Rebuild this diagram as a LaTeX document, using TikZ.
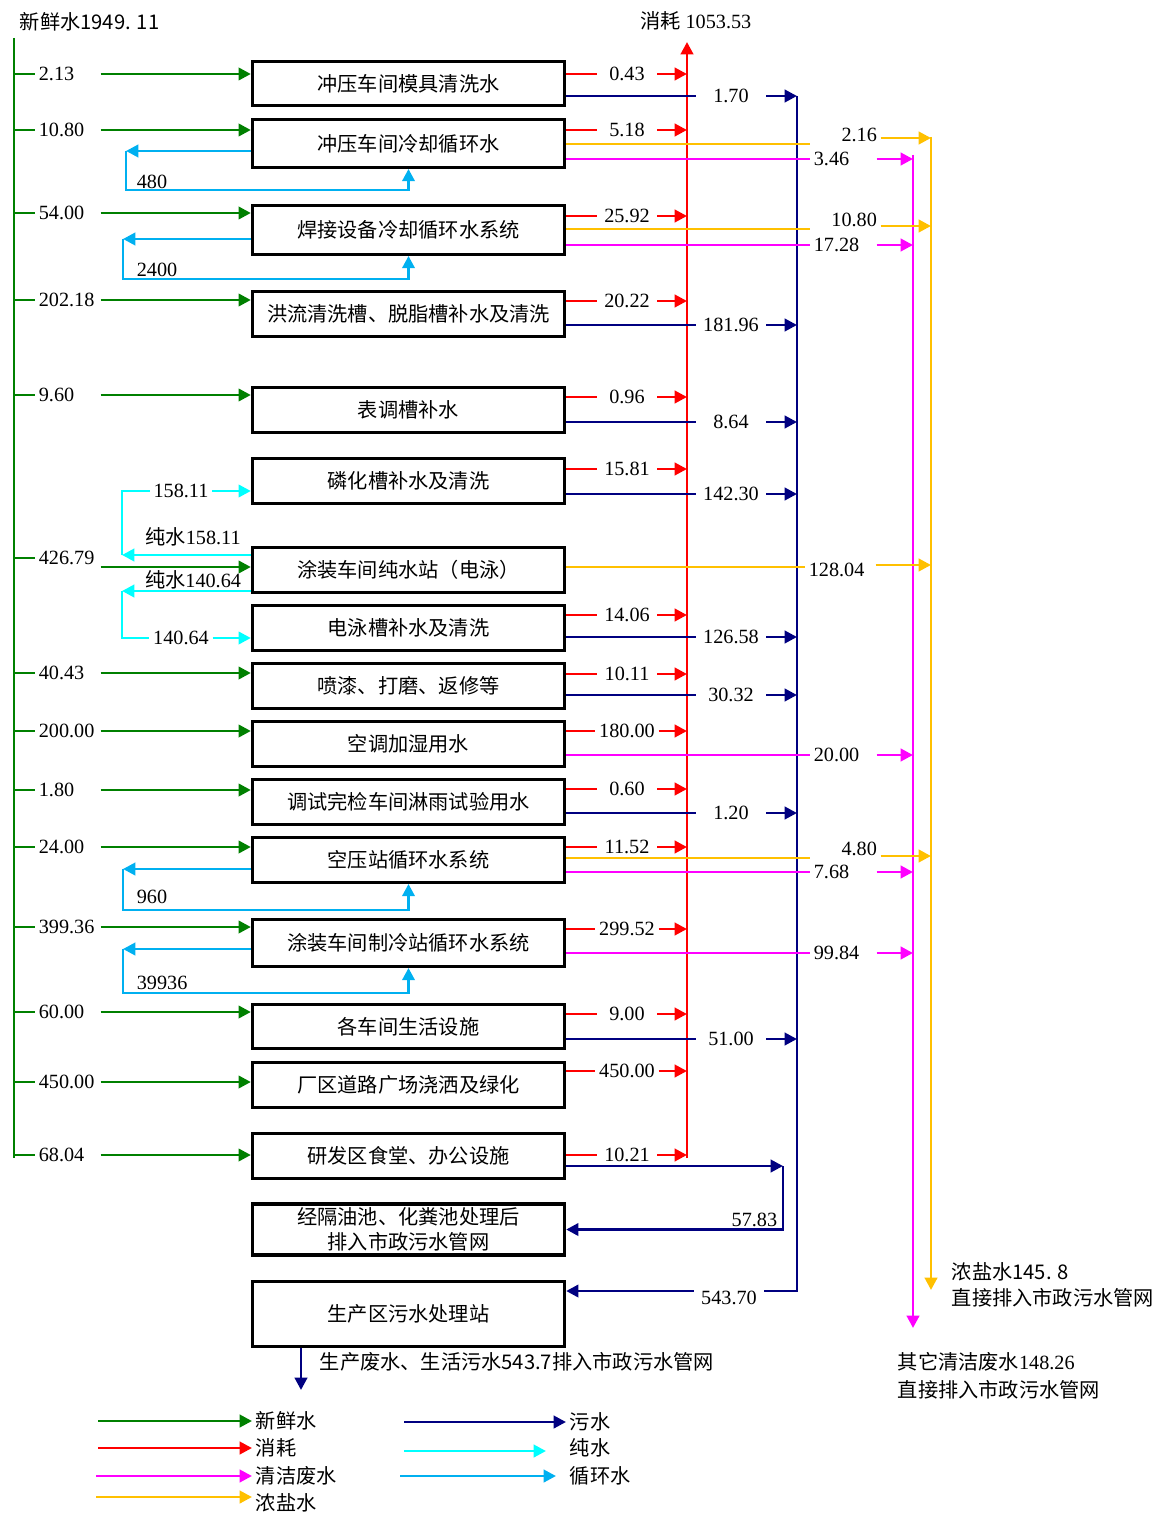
\documentclass[tikz,border=0pt]{standalone}
\usepackage{fontspec}
\setmainfont{Liberation Serif}
\newfontfamily\cjk{Noto Sans CJK SC}
\usetikzlibrary{arrows.meta}
\definecolor{cFresh}{HTML}{008000}
\definecolor{cCons}{HTML}{FF0000}
\definecolor{cSew}{HTML}{000080}
\definecolor{cPure}{HTML}{00FFFF}
\definecolor{cRec}{HTML}{00B0F0}
\definecolor{cClean}{HTML}{FF00FF}
\definecolor{cBrine}{HTML}{FFC000}
\newcommand{\fs}{\fontsize{11.5pt}{14.5pt}\selectfont}
\tikzset{
  flow/.style={line width=1.65pt,color=#1},
  farr/.style={flow=#1,-{Triangle[length=7pt,width=7pt]}},
  box/.style={draw,line width=1.9pt,minimum width=6.24cm,minimum height=0.89cm,align=center,font=\fs\cjk,inner sep=2pt},
  val/.style={font=\fs,inner xsep=2pt,inner ysep=1pt},
  fval/.style={val,anchor=west,text width=1.16cm,align=left},
  cval/.style={val,minimum width=1.2cm},
  sval/.style={val,minimum width=1.4cm},
  mval/.style={val,anchor=west,text width=1.18cm,align=left},
  yval/.style={val,anchor=west,text width=1.26cm,align=right},
  pval/.style={val,minimum width=1.24cm},
  note/.style={font=\fs\cjk,align=left,inner sep=2pt},
}
\begin{document}
\begin{tikzpicture}[x=0.02cm,y=-0.02cm]
\useasboundingbox (0,0) rectangle (1158,1513);
% process boxes
\node[box] (b1) at (408.5,83.5) {冲压车间模具清洗水};
\node[box,minimum height=0.95cm] (b2) at (408.5,143.5) {冲压车间冷却循环水};
\node[box,minimum height=0.97cm] (b3) at (408.5,230) {焊接设备冷却循环水系统};
\node[box] (b4) at (408.5,314) {洪流清洗槽、脱脂槽补水及清洗};
\node[box] (b5) at (408.5,410) {表调槽补水};
\node[box] (b6) at (408.5,481) {磷化槽补水及清洗};
\node[box] (b7) at (408.5,570) {涂装车间纯水站（电泳）};
\node[box] (b8) at (408.5,628) {电泳槽补水及清洗};
\node[box] (b9) at (408.5,686) {喷漆、打磨、返修等};
\node[box] (b10) at (408.5,744) {空调加湿用水};
\node[box] (b11) at (408.5,802) {调试完检车间淋雨试验用水};
\node[box] (b12) at (408.5,860) {空压站循环水系统};
\node[box,minimum height=0.93cm] (b13) at (408.5,943) {涂装车间制冷站循环水系统};
\node[box,minimum height=0.87cm] (b14) at (408.5,1026.5) {各车间生活设施};
\node[box] (b15) at (408.5,1085) {厂区道路广场浇洒及绿化};
\node[box] (b16) at (408.5,1156) {研发区食堂、办公设施};
\node[box,minimum height=0.99cm] (b17) at (408.5,1229.5) {经隔油池、化粪池处理后\\排入市政污水管网};
\node[box,minimum height=1.29cm] (b18) at (408.5,1314) {生产区污水处理站};

% trunks
\coordinate (ftop) at (14,38); \coordinate (fbot) at (14,1158);
\coordinate (ctop) at (687,42); \coordinate (cbot) at (687,1158);
\coordinate (stop) at (797,96); \coordinate (sbot) at (797,1291);
\coordinate (mtop) at (913,155); \coordinate (mbot) at (913,1328);
\coordinate (ytop) at (931,137); \coordinate (ybot) at (931,1290);
\draw[flow=cFresh] (ftop) -- (fbot);
\draw[farr=cCons] (cbot) -- (ctop);
\draw[farr=cClean] (mtop) -- (mbot);
\draw[farr=cBrine] (ytop) -- (ybot);
\node[note,anchor=west] (fin) at (16,22) {新鲜水1949. 11};
\node[note] (cout) at (696,21) {消耗\ {\rmfamily 1053.53}};

% fresh water in
\node[fval] (f1) at (35,74) {2.13}; \draw[flow=cFresh] (ftop |- f1) -- (f1.west); \draw[farr=cFresh] (f1.east) -- (b1.west |- f1);
\node[fval] (f2) at (35,130) {10.80}; \draw[flow=cFresh] (ftop |- f2) -- (f2.west); \draw[farr=cFresh] (f2.east) -- (b2.west |- f2);
\node[fval] (f3) at (35,213) {54.00}; \draw[flow=cFresh] (ftop |- f3) -- (f3.west); \draw[farr=cFresh] (f3.east) -- (b3.west |- f3);
\node[fval] (f4) at (35,300) {202.18}; \draw[flow=cFresh] (ftop |- f4) -- (f4.west); \draw[farr=cFresh] (f4.east) -- (b4.west |- f4);
\node[fval] (f5) at (35,395) {9.60}; \draw[flow=cFresh] (ftop |- f5) -- (f5.west); \draw[farr=cFresh] (f5.east) -- (b5.west |- f5);
\node[fval] (f7) at (35,558) {426.79}; \draw[flow=cFresh] (ftop |- f7) -- (f7.west); \draw[farr=cFresh] (f7.east |- 0,567) -- (b7.west |- 0,567);
\node[fval] (f9) at (35,673) {40.43}; \draw[flow=cFresh] (ftop |- f9) -- (f9.west); \draw[farr=cFresh] (f9.east) -- (b9.west |- f9);
\node[fval] (f10) at (35,731) {200.00}; \draw[flow=cFresh] (ftop |- f10) -- (f10.west); \draw[farr=cFresh] (f10.east) -- (b10.west |- f10);
\node[fval] (f11) at (35,790) {1.80}; \draw[flow=cFresh] (ftop |- f11) -- (f11.west); \draw[farr=cFresh] (f11.east) -- (b11.west |- f11);
\node[fval] (f12) at (35,847) {24.00}; \draw[flow=cFresh] (ftop |- f12) -- (f12.west); \draw[farr=cFresh] (f12.east) -- (b12.west |- f12);
\node[fval] (f13) at (35,927) {399.36}; \draw[flow=cFresh] (ftop |- f13) -- (f13.west); \draw[farr=cFresh] (f13.east) -- (b13.west |- f13);
\node[fval] (f14) at (35,1012) {60.00}; \draw[flow=cFresh] (ftop |- f14) -- (f14.west); \draw[farr=cFresh] (f14.east) -- (b14.west |- f14);
\node[fval] (f15) at (35,1082) {450.00}; \draw[flow=cFresh] (ftop |- f15) -- (f15.west); \draw[farr=cFresh] (f15.east) -- (b15.west |- f15);
\node[fval] (f16) at (35,1155) {68.04}; \draw[flow=cFresh] (ftop |- f16) -- (f16.west); \draw[farr=cFresh] (f16.east) -- (b16.west |- f16);

% consumption out
\node[cval] (c1) at (627,74) {0.43}; \draw[flow=cCons] (b1.east |- c1) -- (c1.west); \draw[farr=cCons] (c1.east) -- (ctop |- c1);
\node[cval] (c2) at (627,130) {5.18}; \draw[flow=cCons] (b2.east |- c2) -- (c2.west); \draw[farr=cCons] (c2.east) -- (ctop |- c2);
\node[cval] (c3) at (627,216) {25.92}; \draw[flow=cCons] (b3.east |- c3) -- (c3.west); \draw[farr=cCons] (c3.east) -- (ctop |- c3);
\node[cval] (c4) at (627,301) {20.22}; \draw[flow=cCons] (b4.east |- c4) -- (c4.west); \draw[farr=cCons] (c4.east) -- (ctop |- c4);
\node[cval] (c5) at (627,397) {0.96}; \draw[flow=cCons] (b5.east |- c5) -- (c5.west); \draw[farr=cCons] (c5.east) -- (ctop |- c5);
\node[cval] (c6) at (627,469) {15.81}; \draw[flow=cCons] (b6.east |- c6) -- (c6.west); \draw[farr=cCons] (c6.east) -- (ctop |- c6);
\node[cval] (c8) at (627,615) {14.06}; \draw[flow=cCons] (b8.east |- c8) -- (c8.west); \draw[farr=cCons] (c8.east) -- (ctop |- c8);
\node[cval] (c9) at (627,674) {10.11}; \draw[flow=cCons] (b9.east |- c9) -- (c9.west); \draw[farr=cCons] (c9.east) -- (ctop |- c9);
\node[cval] (c10) at (627,731) {180.00}; \draw[flow=cCons] (b10.east |- c10) -- (c10.west); \draw[farr=cCons] (c10.east) -- (ctop |- c10);
\node[cval] (c11) at (627,789) {0.60}; \draw[flow=cCons] (b11.east |- c11) -- (c11.west); \draw[farr=cCons] (c11.east) -- (ctop |- c11);
\node[cval] (c12) at (627,847) {11.52}; \draw[flow=cCons] (b12.east |- c12) -- (c12.west); \draw[farr=cCons] (c12.east) -- (ctop |- c12);
\node[cval] (c13) at (627,929) {299.52}; \draw[flow=cCons] (b13.east |- c13) -- (c13.west); \draw[farr=cCons] (c13.east) -- (ctop |- c13);
\node[cval] (c14) at (627,1014) {9.00}; \draw[flow=cCons] (b14.east |- c14) -- (c14.west); \draw[farr=cCons] (c14.east) -- (ctop |- c14);
\node[cval] (c15) at (627,1071) {450.00}; \draw[flow=cCons] (b15.east |- c15) -- (c15.west); \draw[farr=cCons] (c15.east) -- (ctop |- c15);
\node[cval] (c16) at (627,1155) {10.21}; \draw[flow=cCons] (b16.east |- c16) -- (c16.west); \draw[farr=cCons] (c16.east) -- (ctop |- c16);

% sewage
\node[sval] (s1) at (731,96) {1.70}; \draw[flow=cSew] (b1.east |- s1) -- (s1.west); \draw[farr=cSew] (s1.east) -- (stop |- s1);
\node[sval] (s4) at (731,325) {181.96}; \draw[flow=cSew] (b4.east |- s4) -- (s4.west); \draw[farr=cSew] (s4.east) -- (stop |- s4);
\node[sval] (s5) at (731,422) {8.64}; \draw[flow=cSew] (b5.east |- s5) -- (s5.west); \draw[farr=cSew] (s5.east) -- (stop |- s5);
\node[sval] (s6) at (731,494) {142.30}; \draw[flow=cSew] (b6.east |- s6) -- (s6.west); \draw[farr=cSew] (s6.east) -- (stop |- s6);
\node[sval] (s8) at (731,637) {126.58}; \draw[flow=cSew] (b8.east |- s8) -- (s8.west); \draw[farr=cSew] (s8.east) -- (stop |- s8);
\node[sval] (s9) at (731,695) {30.32}; \draw[flow=cSew] (b9.east |- s9) -- (s9.west); \draw[farr=cSew] (s9.east) -- (stop |- s9);
\node[sval] (s11) at (731,813) {1.20}; \draw[flow=cSew] (b11.east |- s11) -- (s11.west); \draw[farr=cSew] (s11.east) -- (stop |- s11);
\node[sval] (s14) at (731,1039) {51.00}; \draw[flow=cSew] (b14.east |- s14) -- (s14.west); \draw[farr=cSew] (s14.east) -- (stop |- s14);
\node[sval] (s18) at (729,1298) {543.70};
\draw[flow=cSew] (stop) -- (sbot) -- (s18.east |- sbot); \draw[farr=cSew] (s18.west |- sbot) -- (b18.east |- sbot);
\coordinate (sc) at (783,1166);
\draw[farr=cSew] (b16.east |- sc) -- (sc); \draw[farr=cSew] (sc) |- (b17.east);
\node[val,anchor=south east] (s17) at (781,1229) {57.83};
\coordinate (sout) at (301,1390);
\draw[farr=cSew] (b18.south -| sout) -- (sout);
\node[note,anchor=west] (soutl) at (316,1362) {生产废水、生活污水543.7排入市政污水管网};

% clean waste water
\node[mval] (m2) at (810,159) {3.46}; \draw[flow=cClean] (b2.east |- m2) -- (m2.west); \draw[farr=cClean] (m2.east) -- (mtop |- m2);
\node[mval] (m3) at (810,245) {17.28}; \draw[flow=cClean] (b3.east |- m3) -- (m3.west); \draw[farr=cClean] (m3.east) -- (mtop |- m3);
\node[mval] (m10) at (810,755) {20.00}; \draw[flow=cClean] (b10.east |- m10) -- (m10.west); \draw[farr=cClean] (m10.east) -- (mtop |- m10);
\node[mval] (m12) at (810,872) {7.68}; \draw[flow=cClean] (b12.east |- m12) -- (m12.west); \draw[farr=cClean] (m12.east) -- (mtop |- m12);
\node[mval] (m13) at (810,953) {99.84}; \draw[flow=cClean] (b13.east |- m13) -- (m13.west); \draw[farr=cClean] (m13.east) -- (mtop |- m13);
\node[note,anchor=north west] (mout) at (894,1349) {其它清洁废水{\rmfamily 148.26}\\[1pt]直接排入市政污水管网};

% brine
\node[yval] (y2) at (810,135) {2.16}; \draw[flow=cBrine] (b2.east |- 0,144) -- (y2.west |- 0,144); \draw[farr=cBrine] (y2.east |- 0,138) -- (ytop |- 0,138);
\node[yval] (y3) at (810,220) {10.80}; \draw[flow=cBrine] (b3.east |- 0,229) -- (y3.west |- 0,229); \draw[farr=cBrine] (y3.east |- 0,226) -- (ytop |- 0,226);
\node[yval,align=left] (y7) at (805,570) {128.04}; \draw[flow=cBrine] (b7.east |- 0,567) -- (y7.west |- 0,567); \draw[farr=cBrine] (y7.east |- 0,565) -- (ytop |- 0,565);
\node[yval] (y12) at (810,849) {4.80}; \draw[flow=cBrine] (b12.east |- 0,858) -- (y12.west |- 0,858); \draw[farr=cBrine] (y12.east |- 0,856) -- (ytop |- 0,856);
\node[note,anchor=north west] (yout) at (948,1259) {浓盐水145. 8\\直接排入市政污水管网};

% pure water
\coordinate (pc1) at (122,555); \coordinate (pc2) at (122,591);
\node[pval] (p6) at (181,491) {158.11}; \node[pval] (p8) at (181,638) {140.64};
\draw[farr=cPure] (b7.west |- pc1) -- (pc1); \draw[flow=cPure] (pc1) |- (p6.west); \draw[farr=cPure] (p6.east) -- (b6.west |- p6);
\draw[farr=cPure] (b7.west |- pc2) -- (pc2); \draw[flow=cPure] (pc2) |- (p8.west); \draw[farr=cPure] (p8.east) -- (b8.west |- p8);
\node[val] (pl1) at (193,537) {{\cjk 纯水}158.11};
\node[val] (pl2) at (193,580) {{\cjk 纯水}140.64};

% recirculation
\coordinate (rc2) at (126,151); \coordinate (rc3) at (123,239);
\coordinate (rc12) at (123,869); \coordinate (rc13) at (123,949);
\draw[farr=cRec] (b2.west |- rc2) -- (rc2); \draw[farr=cRec] (rc2) -- (126,190) -| (b2.south);
\draw[farr=cRec] (b3.west |- rc3) -- (rc3); \draw[farr=cRec] (rc3) -- (123,279) -| (b3.south);
\draw[farr=cRec] (b12.west |- rc12) -- (rc12); \draw[farr=cRec] (rc12) -- (123,910) -| (b12.south);
\draw[farr=cRec] (b13.west |- rc13) -- (rc13); \draw[farr=cRec] (rc13) -- (123,993) -| (b13.south);
\node[val,anchor=south west] (r2) at (133,191) {480};
\node[val,anchor=south west] (r3) at (133,279) {2400};
\node[val,anchor=south west] (r12) at (133,906) {960};
\node[val,anchor=south west] (r13) at (133,992) {39936};

% legend
\node[note,anchor=west] (lg1) at (252,1421) {新鲜水}; \draw[farr=cFresh] (98,1421) -- (lg1);
\node[note,anchor=west] (lg2) at (252,1448) {消耗}; \draw[farr=cCons] (98,1448) -- (lg2);
\node[note,anchor=west] (lg3) at (252,1476) {清洁废水}; \draw[farr=cClean] (96,1476) -- (lg3);
\node[note,anchor=west] (lg4) at (252,1503) {浓盐水}; \draw[farr=cBrine] (96,1497) -- (lg4.west |- 0,1497);
\node[note,anchor=west] (lg5) at (566,1422) {污水}; \draw[farr=cSew] (404,1422) -- (lg5);
\node[note,anchor=west] (lg6) at (566,1448) {纯水}; \draw[farr=cPure] (404,1451) -- ([xshift=-0.4cm]lg6.west |- 0,1451);
\node[note,anchor=west] (lg7) at (566,1476) {循环水}; \draw[farr=cRec] (400,1476) -- ([xshift=-0.2cm]lg7.west);
\end{tikzpicture}
\end{document}
